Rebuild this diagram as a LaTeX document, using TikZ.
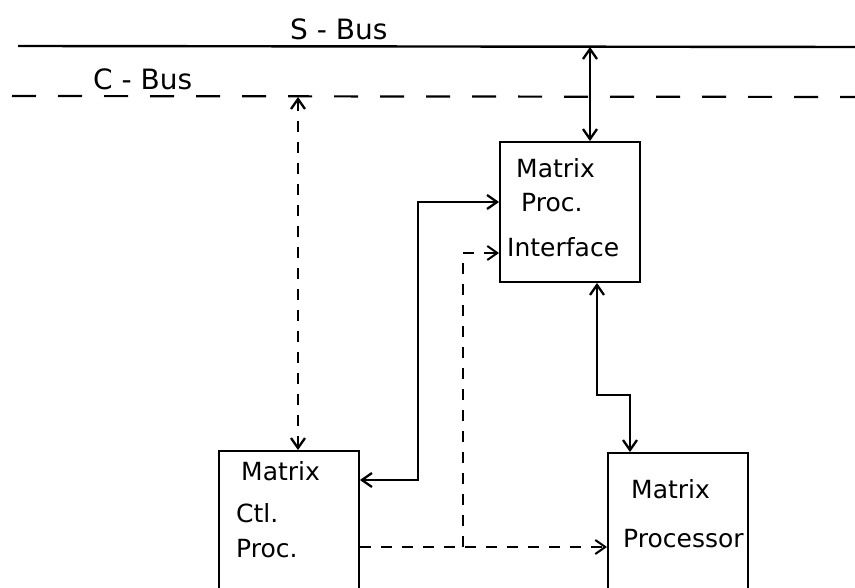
\documentclass[tikz,border=0pt]{standalone}
\usepackage{fontspec}
\setmainfont{DejaVu Sans}
\usetikzlibrary{arrows.meta}

\tikzset{
  block/.style={draw, line width=1.9pt, minimum width=140, minimum height=180, inner sep=0pt},
  blocktop/.style={draw, line width=1.9pt, minimum width=140, minimum height=140, inner sep=0pt},
  link/.style={line width=2.3pt, {Straight Barb[length=10pt,width=14pt]}-{Straight Barb[length=10pt,width=14pt]}},
  ctl/.style={line width=2pt, dash pattern=on 11pt off 10pt},
  tip/.style={-{Straight Barb[length=10pt,width=14pt]}},
  lbl/.style={anchor=base west, inner sep=0pt, font=\fontsize{25}{30}\selectfont},
  buslbl/.style={anchor=base west, inner sep=0pt, font=\fontsize{28}{33}\selectfont}
}

\begin{document}
\begin{tikzpicture}[x=1pt,y=-1pt]
        \clip (0,0) rectangle (855,588);
        \useasboundingbox (0,0) rectangle (855,588);

        % Buses
        \coordinate (sbusL) at (18,46);
        \coordinate (sbusR) at (855,47);
        \coordinate (cbusL) at (12,96);
        \coordinate (cbusR) at (855,97);
        \draw [line width=2.4pt] (sbusL) -- (sbusR);
        \draw [line width=2.2pt, dash pattern=on 24pt off 22pt] (cbusL) -- (cbusR);

        % Blocks
        \node [blocktop] (mpi) at (570,212) {};
        \node [block] (mcp) at (289,541) {};
        \node [block] (mp) at (678,543) {};

        % Bend points
        \coordinate (stap) at (590,47);
        \coordinate (ctap) at (298,97);
        \coordinate (j1) at (418,480);
        \coordinate (j2) at (418,202);
        \coordinate (k1) at (463,547);
        \coordinate (k2) at (463,253);
        \coordinate (m1) at (597,395);
        \coordinate (m2) at (630,395);

        %Straight Lines: S-Bus <-> interface
        \draw [link] (stap) -- (stap |- mpi.north);
        %Straight Lines: C-Bus <-> ctl. proc.
        \draw [link, dash pattern=on 11pt off 10pt] (ctap) -- (ctap |- mcp.north);
        %Straight Lines: ctl. proc. <-> interface
        \draw [link] (j1 -| mcp.east) -- (j1) -- (j2) -- (j2 -| mpi.west);
        %Straight Lines: interface <-> processor
        \draw [link] (m1 |- mpi.south) -- (m1) -- (m2) -- (m2 |- mp.north);
        %Dashed Lines: ctl. proc. -> processor, interface
        \draw [ctl, tip] (k1 -| mcp.east) -- (k1 -| mp.west);
        \draw [ctl, tip] (k1) -- (k2) -- (k2 -| mpi.west);

        % Text Node
        \node [buslbl] (sbus) at (290,40) {S - Bus};
        % Text Node
        \node [buslbl] (cbus) at (93,90) {C - Bus};
        % Text Node
        \node [lbl] (mpi1) at (516,178) {Matrix};
        \node [lbl] (mpi2) at (521,212) {Proc.};
        \node [lbl] (mpi3) at (507,257) {Interface};
        % Text Node
        \node [lbl] (mcp1) at (241,480) {Matrix};
        \node [lbl] (mcp2) at (236,522) {Ctl.};
        \node [lbl] (mcp3) at (236,557) {Proc.};
        % Text Node
        \node [lbl] (mp1) at (631,498) {Matrix};
        \node [lbl] (mp2) at (623,547) {Processor};
\end{tikzpicture}
\end{document}
